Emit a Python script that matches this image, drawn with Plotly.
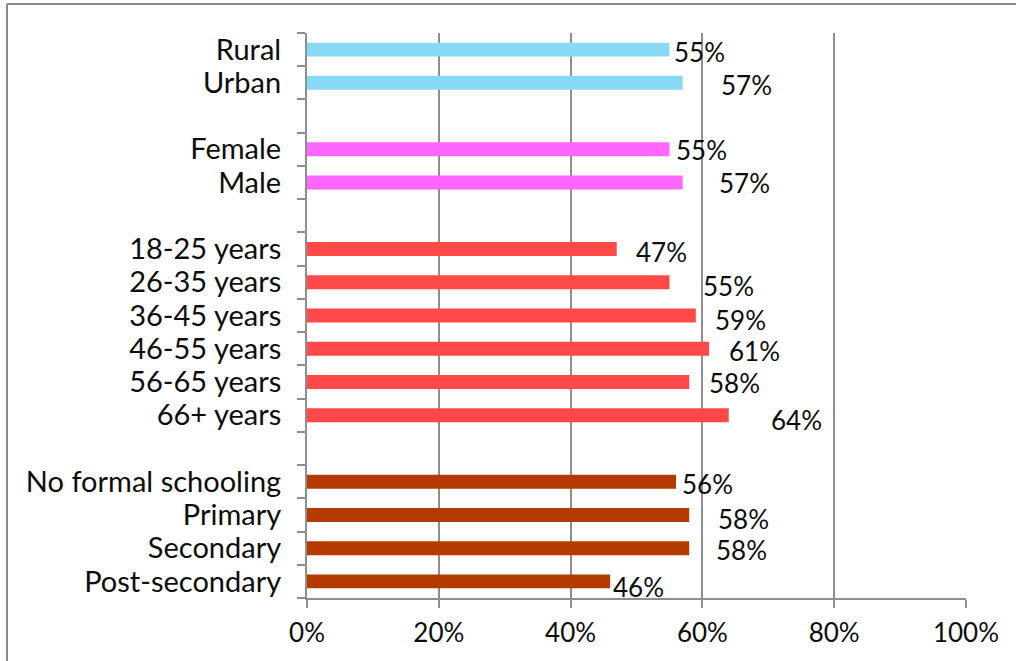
import plotly.graph_objects as go

# ---- data ----
categories = ["Rural", "Urban", " ", "Female", "Male", "  ",
              "18-25 years", "26-35 years", "36-45 years", "46-55 years", "56-65 years", "66+ years", "   ",
              "No formal schooling", "Primary", "Secondary", "Post-secondary"]

location_cats = ["Rural", "Urban"]
location_vals = [55, 57]
gender_cats = ["Female", "Male"]
gender_vals = [55, 57]
age_cats = ["18-25 years", "26-35 years", "36-45 years", "46-55 years", "56-65 years", "66+ years"]
age_vals = [47, 55, 59, 61, 58, 64]
edu_cats = ["No formal schooling", "Primary", "Secondary", "Post-secondary"]
edu_vals = [56, 58, 58, 46]

x_ticks = [0, 20, 40, 60, 80, 100]
x_tick_labels = ["0%", "20%", "40%", "60%", "80%", "100%"]

# ---- styling ----
colors = ["#88D9F5", "#FF66FF", "#FF4848", "#B43A00"]
FONT = "Lato"
FS = 29
FS_NUM = 26
FW = 400
TXT = "#0d0d0d"
# label nudges (pixels) to mimic hand-placed labels in the original
label_dx = [5, 38, 7, 36, 19, 34, 19, 20, 20, 42, 6, 29, 27, 3]
label_dy = [2, 2, 1, 0, 3, 4, 4, 2, 1, 5, 2, 4, 2, 6]

W, H = 1016, 661
ML, MR, MT, MB = 307, 50, 33, 63

fig = go.Figure()
groups = [(location_cats, location_vals), (gender_cats, gender_vals),
          (age_cats, age_vals), (edu_cats, edu_vals)]
for (cats, vals), col in zip(groups, colors):
    fig.add_trace(go.Bar(y=cats, x=vals, orientation="h", marker=dict(color=col, line=dict(width=0)),
                         width=0.42, showlegend=False, hoverinfo="x+y"))

all_cats = [c for g in groups for c in g[0]]
all_vals = [v for g in groups for v in g[1]]
for i, (c, v) in enumerate(zip(all_cats, all_vals)):
    fig.add_annotation(x=v, y=c, text=f"{v}%", showarrow=False, xanchor="left", yanchor="middle",
                       xshift=label_dx[i] - 2, yshift=-label_dy[i],
                       font=dict(family=FONT, size=FS_NUM, color=TXT, weight=FW))

pw = W - ML - MR
ph = H - MT - MB
def px_x(p):
    return (p - ML) / pw
def px_y(p):
    return (H - MB - p) / ph

# outer frame (top and left edges visible)
fig.add_shape(type="line", xref="paper", yref="paper", x0=px_x(7), x1=px_x(W + 10), y0=px_y(4), y1=px_y(4),
              line=dict(color="#8A8A8A", width=2))
fig.add_shape(type="line", xref="paper", yref="paper", x0=px_x(7), x1=px_x(7), y0=px_y(4), y1=px_y(H + 10),
              line=dict(color="#8A8A8A", width=2))

fig.update_layout(
    width=W, height=H,
    margin=dict(l=ML, r=MR, t=MT, b=MB, autoexpand=False),
    paper_bgcolor="white", plot_bgcolor="white",
    font=dict(family=FONT, size=FS, color=TXT, weight=FW),
    bargap=0.58,
)
fig.update_xaxes(range=[0, 100], tickmode="array", tickvals=x_ticks, ticktext=x_tick_labels,
                 showgrid=True, gridcolor="#8E8E8E",
                 gridwidth=2, showline=True, linecolor="#8E8E8E", linewidth=2, ticks="outside",
                 ticklen=8, tickwidth=2, tickcolor="#8E8E8E", zeroline=False, ticklabelstandoff=3,
                 tickfont=dict(family=FONT, size=FS_NUM, color=TXT, weight=FW), fixedrange=True,
                 automargin=False)
fig.update_yaxes(categoryorder="array", categoryarray=categories, range=[len(categories) - 0.5, -0.5],
                 tickmode="array", tickvals=categories, ticktext=categories,
                 showline=True, linecolor="#8E8E8E", linewidth=2, ticks="outside", tickson="boundaries",
                 ticklen=8, tickwidth=2, tickcolor="#8E8E8E", showgrid=False, ticklabelstandoff=18,
                 tickfont=dict(family=FONT, size=FS, color=TXT, weight=FW), fixedrange=True,
                 automargin=False)

fig.write_html("out.html", config={"displayModeBar": False},
               post_script="document.body.style.margin='0px';")
